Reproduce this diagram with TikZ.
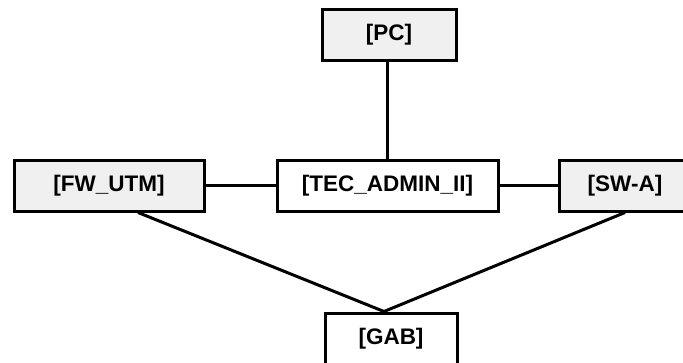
\documentclass[tikz,border=0pt]{standalone}
\usepackage{fontspec}
\setmainfont{Liberation Sans}
\definecolor{boxgray}{RGB}{240,240,240}
\tikzset{
  device/.style={draw=black, line width=3pt, minimum height=51pt, inner sep=0pt,
    font=\fontsize{22.5}{27}\selectfont\bfseries},
  graydev/.style={device, fill=boxgray},
  whitedev/.style={device, fill=white},
  link/.style={draw=black, line width=3pt}
}
\begin{document}
\begin{tikzpicture}[x=1pt, y=-1pt]
  \useasboundingbox (0,0) rectangle (683,362);
  % network devices
  \node[graydev, minimum width=134pt] (PC) at (389,34.5) {[PC]};
  \node[whitedev, minimum width=221pt] (TEC) at (387.5,185.5) {[TEC\_ADMIN\_II]};
  \node[graydev, minimum width=190pt] (FW) at (109,185.5) {[FW\_UTM]};
  \node[graydev, minimum width=132pt] (SW) at (625,185.5) {[SW-A]};
  \node[whitedev, minimum width=132pt] (GAB) at (391,338.5) {[GAB]};
  % join point of the two uplinks on the GAB box
  \coordinate (J) at ([xshift=-7pt]GAB.north);
  \coordinate (FWout) at ([xshift=29pt]FW.south);
  % connections
  \draw[link] (TEC.north) -- (TEC.north |- PC.south);
  \draw[link] (FW.east) -- (TEC.west);
  \draw[link] (TEC.east) -- (SW.west);
  \draw[link] (FWout) -- (J);
  \draw[link] (SW.south) -- (J);
\end{tikzpicture}
\end{document}
